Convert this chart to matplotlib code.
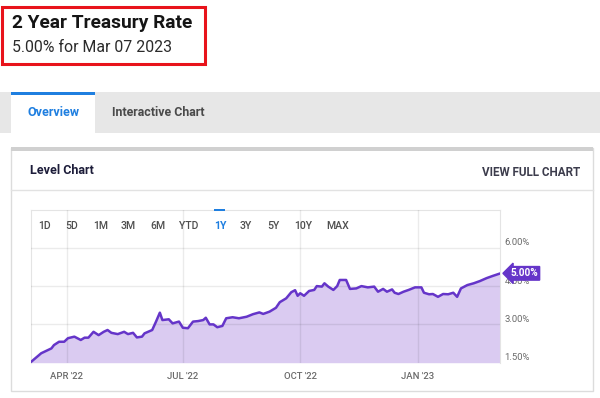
import pandas as pd
import matplotlib
matplotlib.use("Agg")
import matplotlib.pyplot as plt
import matplotlib.transforms as mtransforms
from matplotlib.patches import Rectangle

plt.rcParams['font.family'] = ['Roboto', 'DejaVu Sans']

# valores (tasa a 2 años, %)
fechas = [
    "2022-03-04", "2022-03-12", "2022-03-20", "2022-03-22", "2022-03-26", "2022-03-30",
    "2022-04-02", "2022-04-07", "2022-04-12", "2022-04-15", "2022-04-18", "2022-04-22",
    "2022-04-26", "2022-04-30", "2022-05-03", "2022-05-06", "2022-05-11", "2022-05-16",
    "2022-05-19", "2022-05-23", "2022-05-26", "2022-05-30", "2022-06-01", "2022-06-07",
    "2022-06-10", "2022-06-13", "2022-06-15", "2022-06-20", "2022-06-23", "2022-06-28",
    "2022-07-01", "2022-07-05", "2022-07-09", "2022-07-13", "2022-07-17", "2022-07-19",
    "2022-07-22", "2022-07-25", "2022-07-28", "2022-08-01", "2022-08-04", "2022-08-09",
    "2022-08-14", "2022-08-20", "2022-08-25", "2022-08-30", "2022-09-02", "2022-09-07",
    "2022-09-09", "2022-09-12", "2022-09-15", "2022-09-20", "2022-09-24", "2022-09-27",
    "2022-09-29", "2022-10-01", "2022-10-04", "2022-10-08", "2022-10-12", "2022-10-14",
    "2022-10-18", "2022-10-20", "2022-10-23", "2022-10-27", "2022-10-30", "2022-11-01",
    "2022-11-06", "2022-11-09", "2022-11-14", "2022-11-18", "2022-11-23", "2022-11-28",
    "2022-12-01", "2022-12-05", "2022-12-08", "2022-12-12", "2022-12-14", "2022-12-17",
    "2022-12-21", "2022-12-25", "2022-12-30", "2023-01-04", "2023-01-06", "2023-01-10",
    "2023-01-13", "2023-01-17", "2023-01-21", "2023-01-25", "2023-01-29", "2023-02-01",
    "2023-02-04", "2023-02-09", "2023-02-14", "2023-02-19", "2023-02-24", "2023-03-01",
    "2023-03-07",
]
tasas = [
    1.53, 1.87, 2.06, 2.19, 2.32, 2.32,
    2.46, 2.52, 2.39, 2.48, 2.48, 2.71,
    2.58, 2.71, 2.78, 2.67, 2.62, 2.71,
    2.62, 2.67, 2.49, 2.52, 2.65, 2.78,
    3.11, 3.46, 3.17, 3.20, 3.04, 3.11,
    2.87, 2.85, 3.11, 3.13, 3.17, 3.26,
    3.00, 3.00, 2.89, 2.94, 3.24, 3.28,
    3.24, 3.30, 3.40, 3.47, 3.41, 3.50,
    3.56, 3.65, 3.87, 4.02, 4.26, 4.34,
    4.12, 4.22, 4.12, 4.31, 4.35, 4.50,
    4.48, 4.61, 4.48, 4.35, 4.50, 4.74,
    4.74, 4.39, 4.41, 4.50, 4.45, 4.48,
    4.28, 4.39, 4.28, 4.37, 4.24, 4.19,
    4.28, 4.35, 4.45, 4.45, 4.24, 4.18,
    4.19, 4.08, 4.19, 4.18, 4.24, 4.08,
    4.41, 4.54, 4.61, 4.70, 4.81, 4.90,
    5.00,
]

marcas_x = ["2022-04-01", "2022-07-01", "2022-10-01", "2023-01-01"]
etiquetas_x = ["APR '22", "JUL '22", "OCT '22", "JAN '23"]
niveles_y = [1.5, 3.0, 4.5, 6.0]
etiquetas_y = ["1.50%", "3.00%", "4.50%", "6.00%"]
botones = ["1D", "5D", "1M", "3M", "6M", "YTD", "1Y", "3Y", "5Y", "10Y", "MAX"]
boton_activo = "1Y"

morado = '#6535c9'
relleno = '#dacbf1'
azul = '#1f7fe0'

fechas = pd.to_datetime(fechas)
marcas_x = pd.to_datetime(marcas_x)

fig = plt.figure(figsize=(6, 3.98), dpi=100)

# fondo de la pagina en coordenadas de pixel
bg = fig.add_axes([0, 0, 1, 1], zorder=0)
bg.set_xlim(0, 600)
bg.set_ylim(398, 0)
bg.axis('off')

bg.add_patch(Rectangle((2, 7), 203, 57, fill=False, ec='#e8131b', lw=2.2))
bg.text(12, 23, "2 Year Treasury Rate", fontsize=13.8, fontweight='bold',
        color='#151515', va='center')
bg.text(12, 48, "5.00% for Mar 07 2023", fontsize=11.4, color='#2b2b2b', va='center')

# pestañas
bg.add_patch(Rectangle((0, 92), 600, 41, fc='#e7e7e7', ec='none'))
bg.add_patch(Rectangle((11, 92), 84, 41, fc='white', ec='none'))
bg.add_patch(Rectangle((11, 92), 84, 3, fc=azul, ec='none'))
bg.text(28, 112, "Overview", fontsize=9, fontweight='bold', color=azul, va='center')
bg.text(112, 112, "Interactive Chart", fontsize=8.9, fontweight='bold', color='#4a4a4a',
        va='center')

# tarjeta
bg.add_patch(Rectangle((11, 148), 582, 243, fc='white', ec='#dcdcdc', lw=1))
bg.add_patch(Rectangle((11, 147), 582, 4, fc='#d0d0d0', ec='none'))
bg.plot([11, 593], [190, 190], color='#e2e2e2', lw=1)
bg.text(30, 170, "Level Chart", fontsize=9, fontweight='bold', color='#1d1d3a', va='center')
bg.text(580, 172, "VIEW FULL CHART", fontsize=8.4, fontweight='bold', color='#3c3c4c',
        va='center', ha='right')

# grafico
ax = fig.add_axes([31 / 600, 1 - 362.7 / 398, 469.5 / 600, 153.2 / 398], zorder=1)
ax.set_facecolor('white')
ax.fill_between(fechas, tasas, 1.5, color=relleno, lw=0, zorder=2)
ax.plot(fechas, tasas, color=morado, lw=1.8, zorder=4)
ax.set_xlim(fechas[0], fechas[-1])
ax.set_ylim(1.5, 7.5)

# rejilla encima del relleno, semitransparente
for f in marcas_x:
    ax.axvline(f, color='black', alpha=0.08, lw=1, zorder=3)
for n in niveles_y[1:]:
    ax.axhline(n, color='black', alpha=0.08, lw=1, zorder=3)
for s in ['left', 'top', 'right']:
    ax.spines[s].set_color('#e4e4e4')
ax.spines['bottom'].set_visible(False)

ax.set_xticks(marcas_x)
ax.set_xticklabels(etiquetas_x)
ax.set_yticks([])
ax.tick_params(axis='x', length=0, pad=7, labelsize=6.8, labelcolor='#6a6a6a')
for t in ax.get_xticklabels():
    t.set_fontweight('medium')

# etiquetas del eje y a la derecha, un poco por encima de la linea
tr = mtransforms.blended_transform_factory(ax.transAxes, ax.transData)
tr = tr + mtransforms.ScaledTranslation(4 / 100, 5 / 100, fig.dpi_scale_trans)
for n, e in zip(niveles_y, etiquetas_y):
    ax.text(1.0, n, e, transform=tr, fontsize=6.8, color='#6a6a6a', va='center',
            ha='left', clip_on=False)

ax.annotate(f"{tasas[-1]:.2f}%", xy=(fechas[-1], tasas[-1]), xytext=(7, 0),
            textcoords='offset points', ha='left', va='center', fontsize=7.2,
            fontweight='bold', color='white', annotation_clip=False, zorder=6,
            bbox=dict(boxstyle='larrow,pad=0.18', fc=morado, ec=morado))

# botones de periodo, en una capa encima del grafico
top = fig.add_axes([0, 0, 1, 1], zorder=2)
top.set_xlim(0, 600)
top.set_ylim(398, 0)
top.axis('off')
top.patch.set_alpha(0)
pos_botones = [38, 65, 93, 121, 150, 179, 214, 240, 267, 294, 326]
for b, px in zip(botones, pos_botones):
    c = azul if b == boton_activo else '#4f4f4f'
    top.text(px, 226, b, fontsize=7.6, color=c, va='center', ha='left',
             fontweight='bold' if b == boton_activo else 'medium')
    if b == boton_activo:
        top.add_patch(Rectangle((px, 209), 11, 2.2, fc=azul, ec='none'))

fig.savefig("out.png", dpi=100)
